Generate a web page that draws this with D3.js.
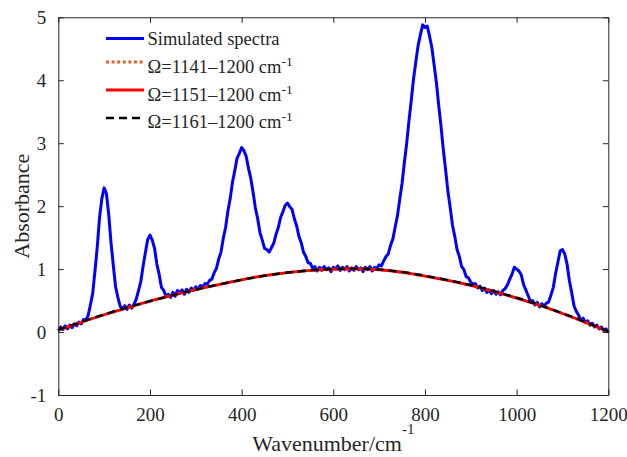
<!DOCTYPE html>
<html>
<head>
<meta charset="utf-8">
<script src="https://cdn.jsdelivr.net/npm/d3@7"></script>
<style>
 body { margin: 0; background: #fff; }
 text { font-family: "Liberation Serif", "Times New Roman", serif; fill: #262626; }
</style>
</head>
<body>
<svg id="graph"></svg>
<script>
// simulated spectrum, one value every 5 cm-1 from 0 to 1200
const spectraStep = 5;
const spectra = [
 0.02,0.08,0.04,0.10,0.05,0.11,0.07,0.13,0.10,0.16,
 0.13,0.20,0.19,0.26,0.43,0.61,0.97,1.35,1.82,2.12,
 2.29,2.20,1.87,1.42,1.06,0.72,0.55,0.41,0.37,0.42,
 0.36,0.43,0.38,0.44,0.52,0.66,0.80,1.05,1.26,1.47,
 1.54,1.46,1.33,1.08,0.92,0.71,0.66,0.57,0.60,0.55,
 0.63,0.57,0.66,0.62,0.67,0.60,0.68,0.63,0.70,0.66,
 0.72,0.68,0.74,0.71,0.77,0.76,0.82,0.84,0.94,1.01,
 1.16,1.27,1.49,1.66,1.92,2.12,2.38,2.56,2.76,2.84,
 2.93,2.88,2.79,2.60,2.44,2.22,1.97,1.80,1.58,1.46,
 1.33,1.31,1.27,1.34,1.41,1.55,1.66,1.82,1.91,2.01,
 2.05,1.99,1.95,1.80,1.69,1.52,1.42,1.27,1.20,1.10,
 1.09,1.01,1.04,0.97,1.03,0.98,1.04,0.99,1.02,0.96,
 1.03,1.00,1.05,0.98,1.03,0.99,1.04,0.97,1.02,0.98,
 1.04,0.99,1.02,0.96,1.03,0.99,1.04,0.97,1.03,1.01,
 1.07,1.05,1.13,1.20,1.24,1.38,1.48,1.67,1.85,2.11,
 2.36,2.69,2.99,3.35,3.67,4.02,4.29,4.55,4.72,4.88,
 4.84,4.86,4.70,4.52,4.24,3.96,3.60,3.27,2.90,2.58,
 2.24,1.98,1.70,1.52,1.31,1.20,1.04,0.99,0.88,0.86,
 0.79,0.76,0.77,0.70,0.73,0.66,0.70,0.63,0.67,0.61,
 0.66,0.60,0.64,0.59,0.66,0.69,0.75,0.84,0.92,1.03,
 1.00,0.97,0.91,0.76,0.67,0.58,0.49,0.50,0.43,0.47,
 0.40,0.45,0.41,0.46,0.48,0.59,0.71,0.93,1.11,1.29,
 1.31,1.24,1.08,0.82,0.63,0.42,0.33,0.27,0.18,0.22,
 0.15,0.18,0.11,0.14,0.08,0.11,0.05,0.08,0.02,0.05,
 -0.01
];

// fitted baselines, one value every 50 cm-1
const baseWave = [0,50,100,150,200,250,300,350,400,450,500,550,600,650,700,750,800,850,900,950,1000,1050,1100,1150,1200];
const base1141 = [0.03,0.155,0.275,0.385,0.49,0.585,0.675,0.755,0.83,0.895,0.945,0.98,1.0,1.005,0.99,0.95,0.89,0.82,0.74,0.645,0.54,0.425,0.295,0.155,0.005];
const base1151 = [0.03,0.155,0.275,0.385,0.49,0.585,0.675,0.755,0.83,0.895,0.945,0.98,1.0,1.005,0.99,0.95,0.89,0.82,0.74,0.645,0.54,0.425,0.295,0.155,0.005];
const base1161 = [0.035,0.16,0.28,0.39,0.49,0.585,0.675,0.755,0.83,0.895,0.945,0.98,1.0,1.007,0.993,0.955,0.895,0.825,0.745,0.65,0.545,0.43,0.3,0.16,0.01];

const xTicks = [0,200,400,600,800,1000,1200];
const yTicks = [-1,0,1,2,3,4,5];
const legendNames = ["Simulated spectra", "\u03A9=1141\u20131200 cm", "\u03A9=1151\u20131200 cm", "\u03A9=1161\u20131200 cm"];

const width = 627, height = 457;
const mLeft = 58.3, mRight = 608.3, mTop = 17.3, mBottom = 395;

const svg = d3.select("#graph").attr("width", width).attr("height", height);

const x = d3.scaleLinear().domain([0, 1200]).range([mLeft, mRight]);
const y = d3.scaleLinear().domain([-1, 5]).range([mBottom, mTop]);

// lines
const line = d3.line().x(d => x(d[0])).y(d => y(d[1]));
const smooth = d3.line().x(d => x(d[0])).y(d => y(d[1])).curve(d3.curveNatural);

svg.append("path")
 .datum(spectra.map((v, i) => [i * spectraStep, v]))
 .attr("d", line)
 .attr("fill", "none").attr("stroke", "#0000ff").attr("stroke-width", 3)
 .attr("stroke-linejoin", "round");

const styles = [
 {data: base1141, color: "#e0622a", width: 2.8, dash: "3,2.6"},
 {data: base1151, color: "#ff0000", width: 2.8, dash: null},
 {data: base1161, color: "#000000", width: 2.4, dash: "8,5"}
];
styles.forEach(s => {
 svg.append("path")
 .datum(baseWave.map((w, i) => [w, s.data[i]]))
 .attr("d", smooth)
 .attr("fill", "none").attr("stroke", s.color).attr("stroke-width", s.width)
 .attr("stroke-dasharray", s.dash);
});

// axes, MATLAB style box with inward ticks
const tl = 5.5;
const fmt = d => String(d);
function styleAxis(g) {
 g.selectAll(".domain").attr("stroke", "#262626").attr("stroke-width", 1);
 g.selectAll(".tick line").attr("stroke", "#262626").attr("stroke-width", 1);
}
svg.append("g").attr("transform", `translate(0,${mBottom})`)
 .call(d3.axisBottom(x).tickValues(xTicks).tickSize(-tl).tickPadding(13).tickFormat(fmt).tickSizeOuter(0))
 .call(styleAxis)
 .selectAll("text").attr("font-size", 19).attr("fill", "#262626").attr("font-family", "Liberation Serif");
svg.append("g").attr("transform", `translate(0,${mTop})`)
 .call(d3.axisTop(x).tickValues(xTicks).tickSize(-tl).tickFormat("").tickSizeOuter(0))
 .call(styleAxis);
svg.append("g").attr("transform", `translate(${mLeft},0)`)
 .call(d3.axisLeft(y).tickValues(yTicks).tickSize(-tl).tickPadding(12).tickFormat(fmt).tickSizeOuter(0))
 .call(styleAxis)
 .selectAll("text").attr("font-size", 19).attr("fill", "#262626").attr("font-family", "Liberation Serif");
svg.append("g").attr("transform", `translate(${mRight},0)`)
 .call(d3.axisRight(y).tickValues(yTicks).tickSize(-tl).tickFormat("").tickSizeOuter(0))
 .call(styleAxis);

// axis titles
const xt = svg.append("text").attr("x", (mLeft + mRight) / 2).attr("y", 451)
 .attr("text-anchor", "middle").attr("font-size", 22);
xt.append("tspan").text("Wavenumber/cm");
xt.append("tspan").attr("dy", -17).attr("font-size", 15).text("-1");

svg.append("text")
 .attr("transform", `translate(28.5,${(mTop + mBottom) / 2}) rotate(-90)`)
 .attr("text-anchor", "middle").attr("font-size", 22)
 .text("Absorbance");

// legend
const legBase = [45, 72.5, 100.5, 128];
const legLine = [38.5, 62, 90, 118];
const legStyles = [{color: "#0000ff", width: 2.8, dash: null}].concat(styles);
legendNames.forEach((name, i) => {
 const s = legStyles[i];
 svg.append("line").attr("x1", 106).attr("x2", 144)
 .attr("y1", legLine[i]).attr("y2", legLine[i])
 .attr("stroke", s.color).attr("stroke-width", s.width)
 .attr("stroke-dasharray", s.dash);
 const t = svg.append("text").attr("x", 147.5).attr("y", legBase[i]).attr("font-size", 18.5);
 t.append("tspan").text(name);
 if (i > 0) t.append("tspan").attr("dy", -7).attr("font-size", 13.5).text("-1");
});
</script>
</body>
</html>
